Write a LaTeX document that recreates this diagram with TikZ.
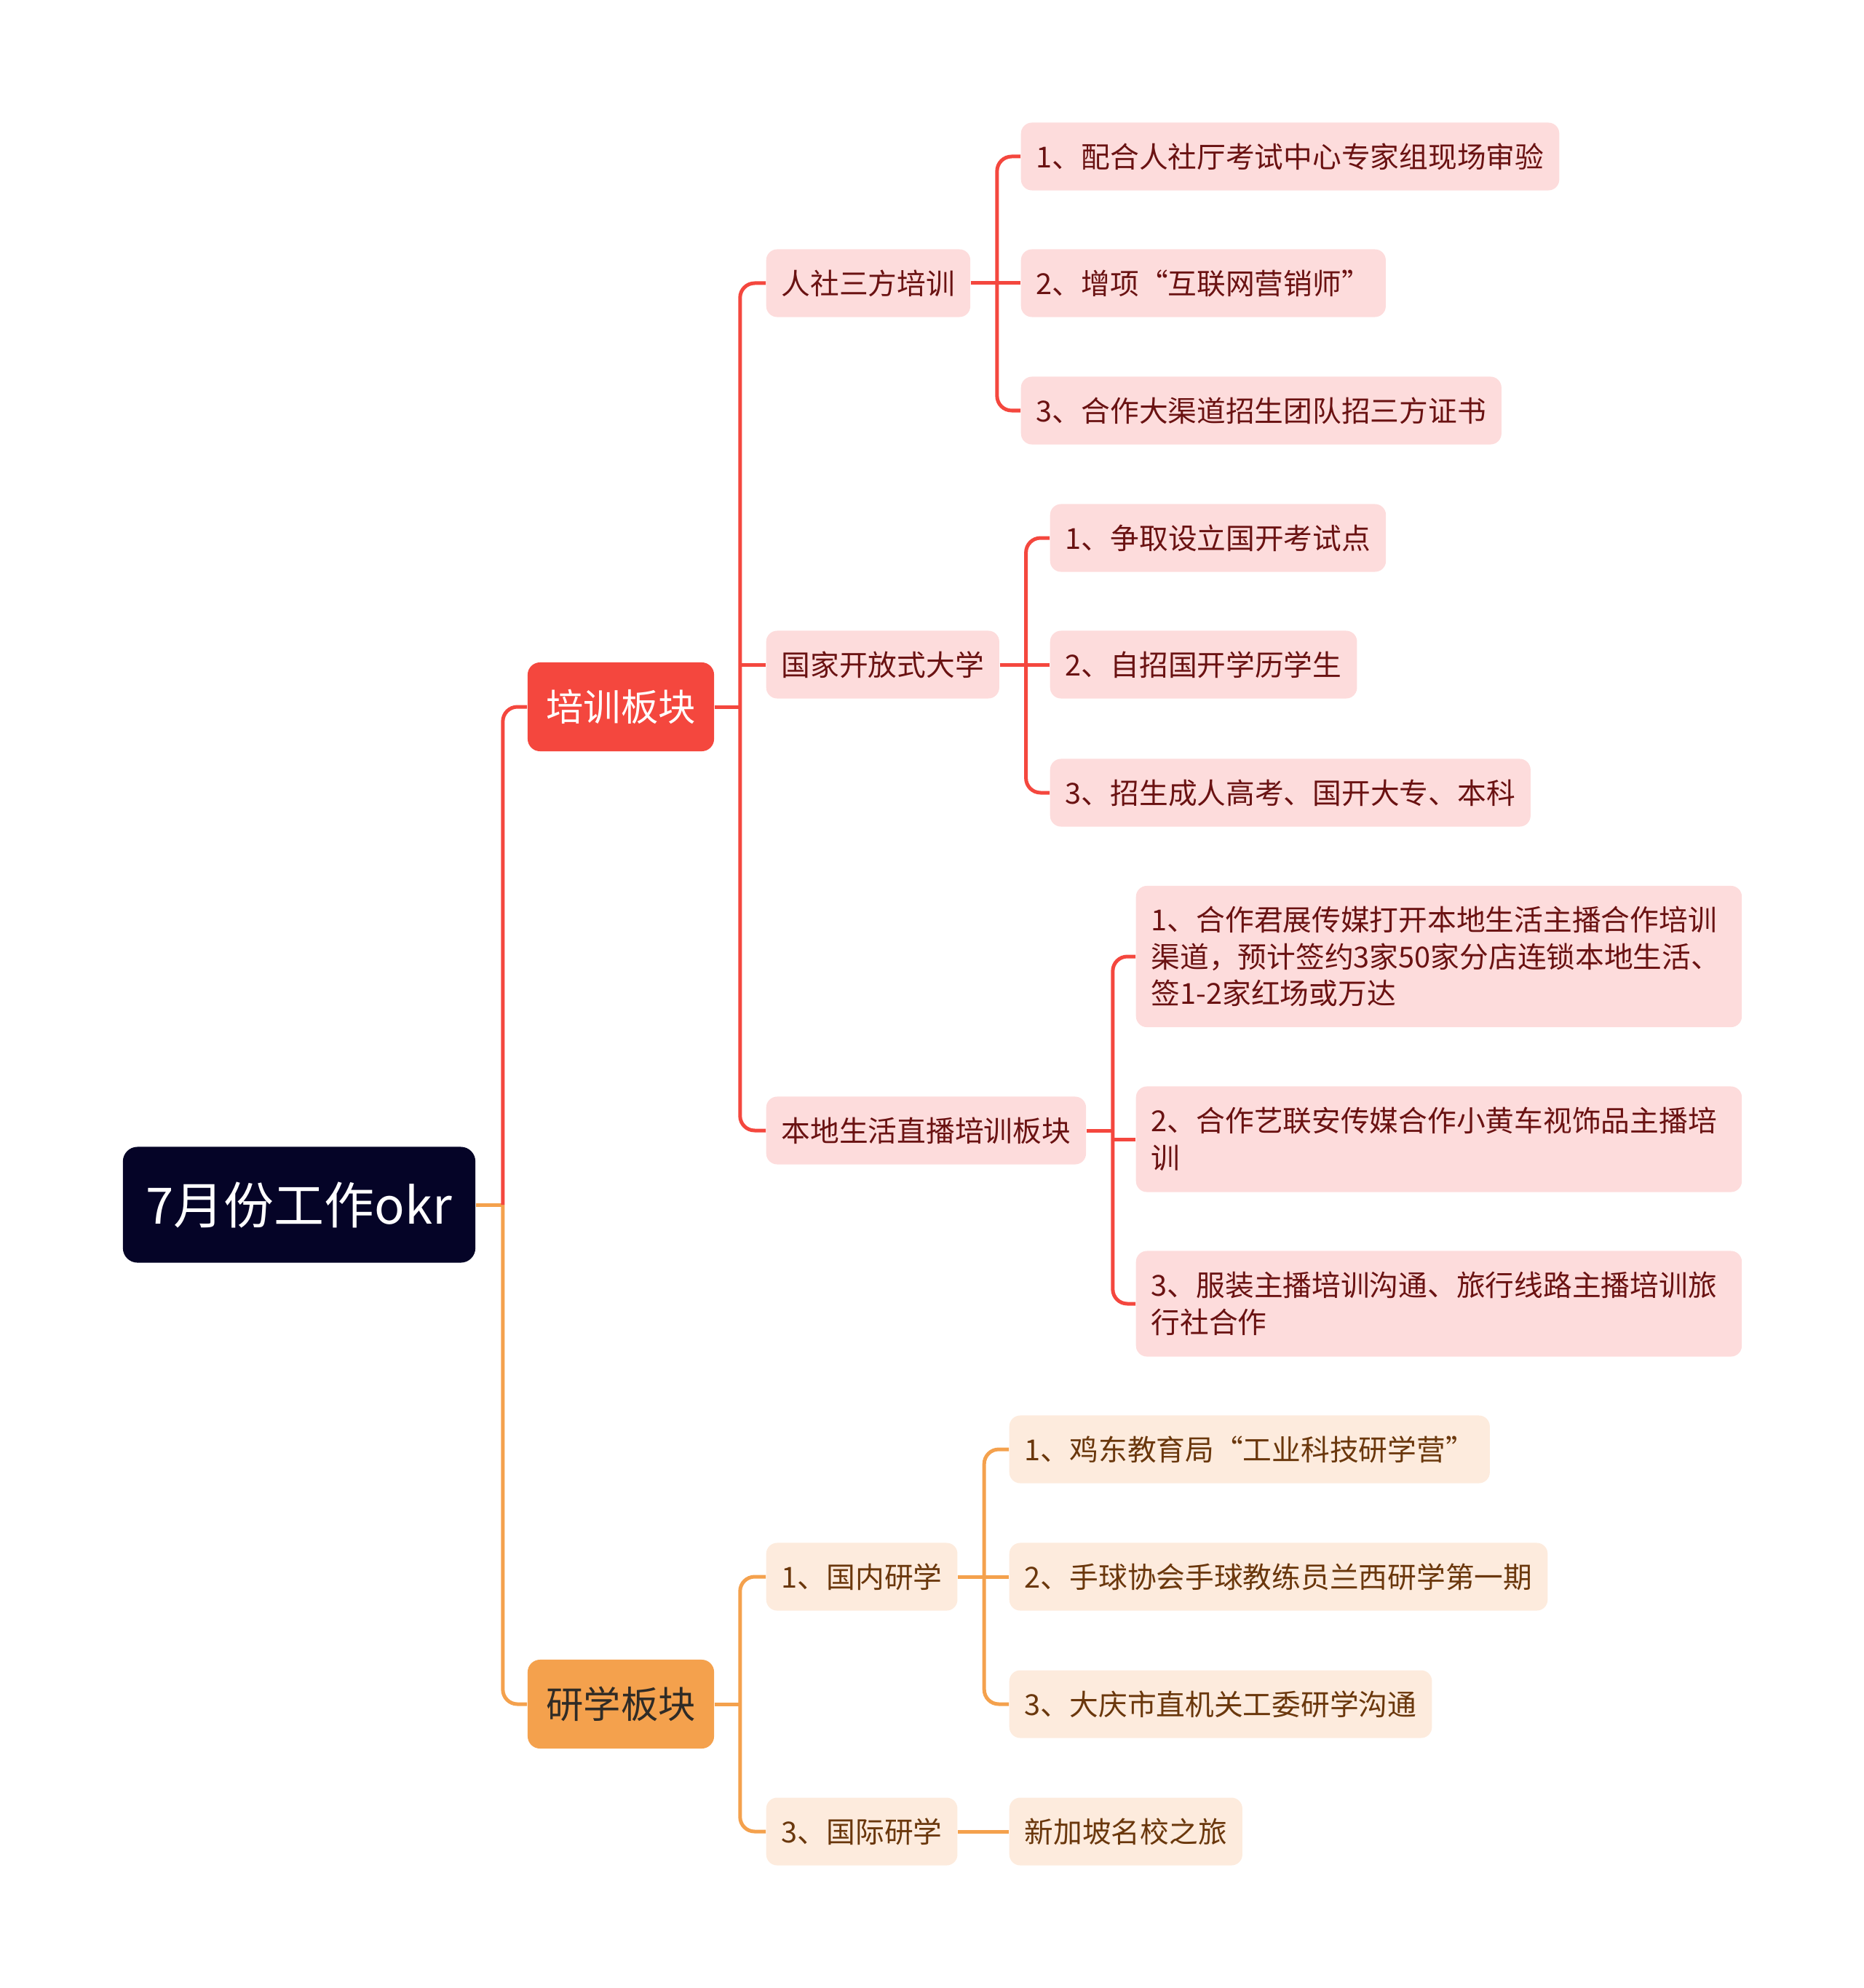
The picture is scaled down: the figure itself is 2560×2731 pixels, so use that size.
\documentclass[tikz,border=0pt]{standalone}
\usepackage{fontspec}
\setmainfont{Noto Sans CJK SC}
\definecolor{rootbg}{HTML}{050427}
\definecolor{redmain}{HTML}{F4473E}
\definecolor{orangemain}{HTML}{F4A14D}
\definecolor{pinkbg}{HTML}{FDDCDC}
\definecolor{pinktext}{HTML}{6A1212}
\definecolor{peachbg}{HTML}{FDEBDD}
\definecolor{peachtext}{HTML}{6A370C}
\definecolor{darktext}{HTML}{2F2B26}

\begin{document}
\begin{tikzpicture}
    [x=0.01cm, y=-0.01cm,
    rootnode/.style={rectangle, rounded corners=0.2cm, fill=rootbg, text=white,
        minimum width=4.84cm, minimum height=1.59cm, font=\fontsize{19.6pt}{24pt}\selectfont},
    topic/.style={rectangle, rounded corners=0.17cm, minimum width=2.56cm,
        minimum height=1.22cm, font=\fontsize{14.6pt}{18pt}\selectfont},
    leaf/.style={rectangle, rounded corners=0.15cm, anchor=west, inner xsep=0.21cm,
        minimum height=0.93cm, font=\fontsize{11.3pt}{14.4pt}\selectfont},
    redleaf/.style={leaf, fill=pinkbg, text=pinktext},
    orangeleaf/.style={leaf, fill=peachbg, text=peachtext},
    longleaf/.style={redleaf, text width=7.9cm, align=left},
    link/.style={line width=0.05cm, rounded corners=0.2cm},
    redline/.style={link, draw=redmain},
    orangeline/.style={link, draw=orangemain}]
    \useasboundingbox (0,0) rectangle (2560,2731);

    %% root and the two main topics
    \node[rootnode] (root) at (411,1655) {7月份工作okr};
    \node[topic, fill=redmain, text=white] (px) at (853,971) {培训板块};
    \node[topic, fill=orangemain, text=darktext] (yx) at (853,2341) {研学板块};

    %% 培训板块
    \node[redleaf] (rs) at (1052,389) {人社三方培训};
    \node[redleaf] (rs1) at (1402,215) {1、配合人社厅考试中心专家组现场审验};
    \node[redleaf] (rs2) at (1402,389) {2、增项“互联网营销师”};
    \node[redleaf] (rs3) at (1402,564) {3、合作大渠道招生团队招三方证书};

    \node[redleaf] (gk) at (1052,913) {国家开放式大学};
    \node[redleaf] (gk1) at (1442,739) {1、争取设立国开考试点};
    \node[redleaf] (gk2) at (1442,913) {2、自招国开学历学生};
    \node[redleaf] (gk3) at (1442,1089) {3、招生成人高考、国开大专、本科};

    \node[redleaf] (bd) at (1052,1553) {本地生活直播培训板块};
    \node[longleaf, minimum height=1.94cm] (bd1) at (1560,1314)
        {1、合作君展传媒打开本地生活主播合作培训\\渠道，预计签约3家50家分店连锁本地生活、\\签1-2家红场或万达};
    \node[longleaf, minimum height=1.45cm] (bd2) at (1560,1565)
        {2、合作艺联安传媒合作小黄车视饰品主播培\\训};
    \node[longleaf, minimum height=1.45cm] (bd3) at (1560,1791)
        {3、服装主播培训沟通、旅行线路主播培训旅\\行社合作};

    %% 研学板块
    \node[orangeleaf] (gn) at (1052,2166) {1、国内研学};
    \node[orangeleaf] (gn1) at (1386,1991) {1、鸡东教育局“工业科技研学营”};
    \node[orangeleaf] (gn2) at (1386,2166) {2、手球协会手球教练员兰西研学第一期};
    \node[orangeleaf] (gn3) at (1386,2341) {3、大庆市直机关工委研学沟通};

    \node[orangeleaf] (gj) at (1052,2516) {3、国际研学};
    \node[orangeleaf] (gj1) at (1386,2516) {新加坡名校之旅};

    %% connectors
    \path (root.east) ++(37,0) coordinate (root-j);
    \draw[orangeline] (root.east) -- (root-j);
    \draw[orangeline] (root-j) |- (yx.west);
    \draw[redline] (root-j) |- (px.west);

    \path (px.east) ++(35,0) coordinate (px-j);
    \draw[redline] (px.east) -- (px-j);
    \draw[redline] (rs.west) -| (px-j) |- (bd.west);
    \draw[redline] (px-j |- gk.west) -- (gk.west);

    \foreach \p/\a/\m/\b in {rs/rs1/rs2/rs3, gk/gk1/gk2/gk3, bd/bd1/bd2/bd3}{
        \path (\p.east) ++(36,0) coordinate (\p-j);
        \draw[redline] (\p.east) -- (\p-j);
        \draw[redline] (\a.west) -| (\p-j) |- (\b.west);
        \draw[redline] (\p-j |- \m.west) -- (\m.west);
    }

    \path (yx.east) ++(35,0) coordinate (yx-j);
    \draw[orangeline] (yx.east) -- (yx-j);
    \draw[orangeline] (gn.west) -| (yx-j) |- (gj.west);

    \path (gn.east) ++(36,0) coordinate (gn-j);
    \draw[orangeline] (gn.east) -- (gn-j);
    \draw[orangeline] (gn1.west) -| (gn-j) |- (gn3.west);
    \draw[orangeline] (gn-j |- gn2.west) -- (gn2.west);

    \draw[orangeline] (gj.east) -- (gj1.west);
\end{tikzpicture}
\end{document}
